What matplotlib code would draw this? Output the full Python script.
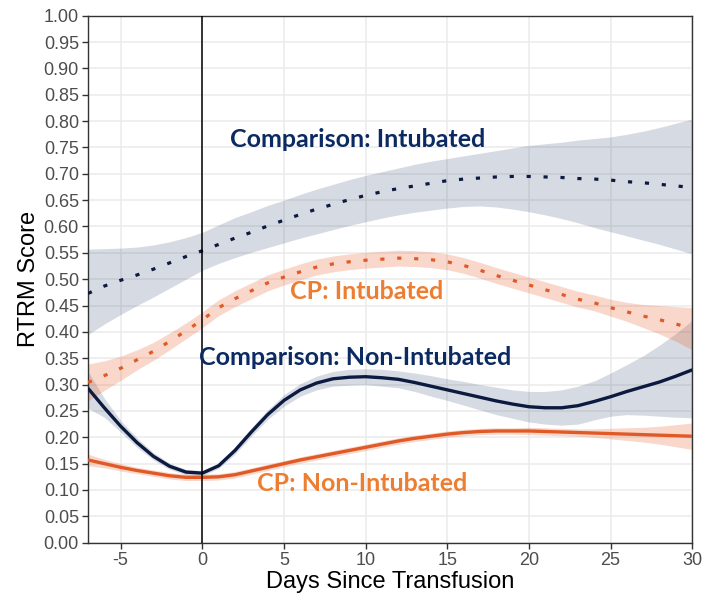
import matplotlib
matplotlib.use("Agg")
import matplotlib.pyplot as plt

plt.rcParams["axes.unicode_minus"] = False

# days since transfusion (one reading per day)
days = list(range(-7, 31))

# Comparison: Intubated (dotted navy)
comp_int = [0.473, 0.487, 0.498, 0.508, 0.519, 0.531, 0.543, 0.554, 0.566, 0.578,
            0.589, 0.601, 0.612, 0.623, 0.633, 0.642, 0.651, 0.659, 0.666, 0.672,
            0.677, 0.682, 0.687, 0.690, 0.692, 0.694, 0.695, 0.695, 0.694, 0.693,
            0.691, 0.690, 0.688, 0.685, 0.683, 0.680, 0.677, 0.674]
comp_int_hi = [0.557, 0.558, 0.559, 0.561, 0.565, 0.571, 0.579, 0.589, 0.603, 0.617,
               0.628, 0.640, 0.650, 0.661, 0.671, 0.680, 0.689, 0.697, 0.704, 0.711,
               0.718, 0.724, 0.729, 0.734, 0.739, 0.744, 0.749, 0.754, 0.757, 0.760,
               0.764, 0.767, 0.770, 0.775, 0.781, 0.788, 0.796, 0.804]
comp_int_lo = [0.395, 0.415, 0.433, 0.450, 0.466, 0.483, 0.500, 0.517, 0.530, 0.541,
               0.551, 0.560, 0.569, 0.578, 0.586, 0.594, 0.602, 0.609, 0.616, 0.622,
               0.627, 0.631, 0.635, 0.638, 0.639, 0.637, 0.633, 0.628, 0.622, 0.615,
               0.607, 0.598, 0.590, 0.582, 0.574, 0.566, 0.557, 0.548]

# CP: Intubated (dotted orange)
cp_int = [0.304, 0.317, 0.331, 0.347, 0.363, 0.382, 0.402, 0.423, 0.446, 0.463,
          0.478, 0.493, 0.504, 0.514, 0.523, 0.529, 0.533, 0.536, 0.538, 0.540,
          0.539, 0.537, 0.533, 0.526, 0.517, 0.507, 0.498, 0.489, 0.480, 0.471,
          0.462, 0.455, 0.446, 0.438, 0.430, 0.423, 0.415, 0.406]
cp_int_hi = [0.339, 0.345, 0.354, 0.366, 0.380, 0.398, 0.417, 0.438, 0.461, 0.478,
             0.493, 0.508, 0.519, 0.529, 0.538, 0.544, 0.548, 0.551, 0.553, 0.555,
             0.554, 0.552, 0.548, 0.541, 0.532, 0.522, 0.513, 0.504, 0.495, 0.486,
             0.477, 0.470, 0.462, 0.456, 0.452, 0.450, 0.448, 0.446]
cp_int_lo = [0.269, 0.289, 0.308, 0.328, 0.346, 0.366, 0.387, 0.408, 0.431, 0.448,
             0.463, 0.478, 0.489, 0.499, 0.508, 0.514, 0.518, 0.521, 0.523, 0.525,
             0.524, 0.522, 0.518, 0.511, 0.502, 0.492, 0.483, 0.474, 0.465, 0.456,
             0.447, 0.440, 0.430, 0.420, 0.408, 0.396, 0.382, 0.366]

# Comparison: Non-Intubated (solid navy)
comp_non = [0.293, 0.256, 0.221, 0.190, 0.164, 0.145, 0.134, 0.132, 0.146, 0.175,
            0.210, 0.243, 0.270, 0.290, 0.303, 0.311, 0.314, 0.315, 0.313, 0.310,
            0.304, 0.297, 0.290, 0.283, 0.276, 0.269, 0.263, 0.258, 0.256, 0.256,
            0.260, 0.268, 0.277, 0.287, 0.296, 0.305, 0.316, 0.328]
comp_non_hi = [0.325, 0.274, 0.232, 0.199, 0.171, 0.151, 0.139, 0.137, 0.151, 0.182,
               0.218, 0.252, 0.281, 0.302, 0.316, 0.325, 0.329, 0.330, 0.329, 0.326,
               0.322, 0.317, 0.311, 0.306, 0.300, 0.295, 0.290, 0.287, 0.287, 0.290,
               0.297, 0.307, 0.322, 0.338, 0.355, 0.375, 0.397, 0.422]
comp_non_lo = [0.255, 0.238, 0.210, 0.181, 0.157, 0.139, 0.129, 0.127, 0.141, 0.168,
               0.202, 0.234, 0.259, 0.278, 0.290, 0.297, 0.299, 0.300, 0.297, 0.294,
               0.287, 0.278, 0.270, 0.261, 0.252, 0.243, 0.236, 0.229, 0.225, 0.223,
               0.225, 0.233, 0.240, 0.243, 0.242, 0.240, 0.238, 0.237]

# CP: Non-Intubated (solid orange)
cp_non = [0.157, 0.150, 0.143, 0.137, 0.132, 0.127, 0.124, 0.124, 0.125, 0.129,
          0.136, 0.143, 0.150, 0.157, 0.163, 0.169, 0.175, 0.181, 0.187, 0.193,
          0.198, 0.202, 0.206, 0.209, 0.211, 0.212, 0.212, 0.212, 0.211, 0.210,
          0.209, 0.208, 0.207, 0.206, 0.205, 0.204, 0.203, 0.202]
cp_non_hi = [0.168, 0.158, 0.150, 0.143, 0.138, 0.133, 0.130, 0.130, 0.131, 0.135,
             0.142, 0.149, 0.156, 0.163, 0.169, 0.175, 0.181, 0.187, 0.193, 0.199,
             0.204, 0.208, 0.212, 0.215, 0.217, 0.218, 0.218, 0.219, 0.218, 0.217,
             0.216, 0.216, 0.217, 0.218, 0.219, 0.221, 0.224, 0.227]
cp_non_lo = [0.146, 0.142, 0.136, 0.131, 0.126, 0.121, 0.118, 0.118, 0.119, 0.123,
             0.130, 0.137, 0.144, 0.151, 0.157, 0.163, 0.169, 0.175, 0.181, 0.187,
             0.192, 0.196, 0.200, 0.203, 0.205, 0.206, 0.206, 0.205, 0.204, 0.203,
             0.202, 0.200, 0.197, 0.194, 0.191, 0.187, 0.182, 0.177]

x_ticks = [-5, 0, 5, 10, 15, 20, 25, 30]
y_ticks = [i / 20 for i in range(21)]

NAVY = "#0c1a3f"
NAVY_TXT = "#0b2a62"
ORANGE = "#e05a28"
ORANGE_TXT = "#ed7d31"
NAVY_BAND = "#1f3864"
ORANGE_BAND = "#e8602c"

fig = plt.figure(figsize=(7.08, 6.04), dpi=100)
ax = fig.add_axes([0.1243, 0.1015, 0.8535, 0.8725])

# confidence bands
ax.fill_between(days, comp_int_lo, comp_int_hi, color=NAVY_BAND, alpha=0.18, lw=0, zorder=2)
ax.fill_between(days, comp_non_lo, comp_non_hi, color=NAVY_BAND, alpha=0.18, lw=0, zorder=2)
ax.fill_between(days, cp_int_lo, cp_int_hi, color=ORANGE_BAND, alpha=0.25, lw=0, zorder=2)
ax.fill_between(days, cp_non_lo, cp_non_hi, color=ORANGE_BAND, alpha=0.25, lw=0, zorder=2)

# lines
ax.plot(days, comp_int, color=NAVY, lw=2.3, dashes=(1.3, 4), zorder=3)
ax.plot(days, cp_int, color=ORANGE, lw=2.3, dashes=(1.3, 4), zorder=3)
ax.plot(days, cp_non, color=ORANGE, lw=2.4, solid_capstyle="butt",
        solid_joinstyle="round", zorder=3)
ax.plot(days, comp_non, color=NAVY, lw=2.4, solid_capstyle="butt",
        solid_joinstyle="round", zorder=3)

ax.axvline(0, color="black", lw=1.1, zorder=4)

# labels on the plot
lab_font = dict(family=["Lato", "DejaVu Sans"], fontweight="bold", fontsize=18,
                ha="center", va="baseline", zorder=5)
ax.text(9.53, 0.7515, "Comparison: Intubated", color=NAVY_TXT, **lab_font)
ax.text(10.06, 0.462, "CP: Intubated", color=ORANGE_TXT, **lab_font)
ax.text(9.38, 0.337, "Comparison: Non-Intubated", color=NAVY_TXT, **lab_font)
ax.text(9.78, 0.098, "CP: Non-Intubated", color=ORANGE_TXT, **lab_font)

ax.set_xlim(-7, 30)
ax.set_ylim(0, 1)
ax.set_xticks(x_ticks)
ax.set_yticks(y_ticks)
ax.set_yticklabels([f"{v:.2f}" for v in y_ticks])
ax.grid(True, color="#ebebeb", lw=1.1, zorder=0)
ax.set_axisbelow(True)

for s in ax.spines.values():
    s.set_color("#333333")
    s.set_linewidth(1.0)
ax.tick_params(axis="both", colors="#333333", length=4, width=1.0,
               labelcolor="#4d4d4d", labelsize=13, pad=2.5)
for lab in ax.get_xticklabels() + ax.get_yticklabels():
    lab.set_family(["Liberation Sans", "DejaVu Sans"])

ax.set_xlabel("Days Since Transfusion", fontsize=17, family=["Liberation Sans", "DejaVu Sans"],
              labelpad=2)
ax.set_ylabel("RTRM Score", fontsize=17, family=["Liberation Sans", "DejaVu Sans"],
              labelpad=3)

fig.savefig("out.png", dpi=100)
